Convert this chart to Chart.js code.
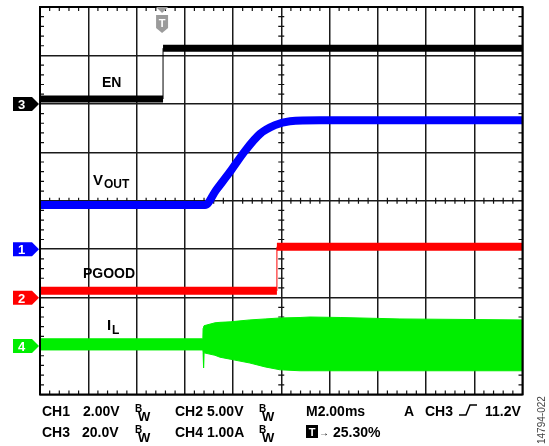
<!DOCTYPE html>
<html>
<head>
<meta charset="utf-8">
<script src="https://cdn.jsdelivr.net/npm/chart.js@4.4.1/dist/chart.umd.min.js"></script>
<style>
  body { margin: 0; background: #fff; }
  #scope { display: block; }
</style>
</head>
<body>
<canvas id="scope" width="549" height="446"></canvas>
<script>
// time axis in ms (M2.00ms/div, 10 div), vertical axis in screen divisions (8 div)
const enT = [0, 5.10, 5.10, 20];
const enV = [6.10, 6.10, 7.15, 7.15];

const voutT = [0, 6.84, 7.30, 7.88, 8.50, 9.12, 9.74, 10.36, 11.61, 20];
const voutV = [3.91, 3.91, 4.22, 4.60, 5.03, 5.38, 5.56, 5.64, 5.66, 5.66];

const pgoodT = [0, 9.82, 9.82, 20];
const pgoodV = [2.14, 2.14, 3.05, 3.05];

// inductor current: upper / lower envelope of the switching band
const ilT  = [0, 6.75, 6.76, 6.78, 6.80, 7.25, 7.46, 7.88, 8.08, 8.70, 9.33, 9.95, 10.78, 11.19, 12.44, 14.92, 20];
const ilHi = [1.15, 1.15, 1.37, 1.40, 1.42, 1.48, 1.49, 1.50, 1.51, 1.54, 1.56, 1.58, 1.59, 1.60, 1.59, 1.56, 1.54];
const ilLo = [0.92, 0.92, 0.87, 0.55, 0.86, 0.81, 0.77, 0.73, 0.71, 0.65, 0.57, 0.51, 0.49, 0.49, 0.49, 0.49, 0.49];

// channel ground markers (div) and trigger position (% of record)
const channels = [
    { n: '3', level: 6, color: '#000000' },
    { n: '1', level: 3, color: '#0000ff' },
    { n: '2', level: 2, color: '#ff0000' },
    { n: '4', level: 1, color: '#00ee00' }
];
const triggerPct = 25.30;

const FONT = '"Liberation Sans", Arial, sans-serif';

function pts(xs, ys) {
    return xs.map((x, i) => ({ x: x, y: ys[i] }));
}

function stepWidth(thick) {
    return {
        borderWidth: c => (c.p0.parsed.x === c.p1.parsed.x ? 1 : thick)
    };
}

function txt(ctx, s, x, y, size, color, weight) {
    ctx.font = (weight || 'bold') + ' ' + size + 'px ' + FONT;
    ctx.fillStyle = color || '#000';
    ctx.fillText(s, x, y);
}

function bw(ctx, x, y) {
    txt(ctx, 'B', x, y - 4, 10);
    txt(ctx, 'W', x + 3, y + 5, 13);
}

const scopeDecor = {
    id: 'scopeDecor',
    beforeDatasetsDraw(chart) {
        const { ctx, chartArea: a, scales: { x, y } } = chart;
        const cx = x.getPixelForValue(10);
        const cy = y.getPixelForValue(4);
        ctx.save();
        ctx.strokeStyle = '#111';
        ctx.lineWidth = 1.2;
        ctx.beginPath();
        for (let k = 1; k < 50; k++) {
            if (k % 5 === 0) continue;
            const px = x.getPixelForValue(k * 0.4);
            ctx.moveTo(px, a.top); ctx.lineTo(px, a.top + 4);
            ctx.moveTo(px, a.bottom); ctx.lineTo(px, a.bottom - 4);
            ctx.moveTo(px, cy - 3); ctx.lineTo(px, cy + 3);
        }
        for (let k = 1; k < 40; k++) {
            if (k % 5 === 0) continue;
            const py = y.getPixelForValue(k * 0.2);
            ctx.moveTo(a.left, py); ctx.lineTo(a.left + 4, py);
            ctx.moveTo(a.right, py); ctx.lineTo(a.right - 4, py);
            ctx.moveTo(cx - 3, py); ctx.lineTo(cx + 3, py);
        }
        ctx.stroke();
        ctx.restore();
    },
    afterDatasetsDraw(chart) {
        const { ctx, chartArea: a, scales: { x, y } } = chart;
        ctx.save();
        ctx.strokeStyle = '#000';
        ctx.lineWidth = 2;
        ctx.strokeRect(a.left, a.top, a.right - a.left, a.bottom - a.top);

        // channel ground markers
        channels.forEach(ch => {
            const py = y.getPixelForValue(ch.level);
            ctx.fillStyle = ch.color;
            ctx.beginPath();
            ctx.moveTo(13, py - 7);
            ctx.lineTo(32, py - 7);
            ctx.lineTo(39, py);
            ctx.lineTo(32, py + 7);
            ctx.lineTo(13, py + 7);
            ctx.closePath();
            ctx.fill();
            txt(ctx, ch.n, 18, py + 5, 13, '#fff');
        });

        // trigger position marker
        const tx = x.getPixelForValue(triggerPct / 100 * 20);
        ctx.fillStyle = '#9b9b9b';
        ctx.beginPath();
        ctx.moveTo(tx - 6, a.top); ctx.lineTo(tx + 6, a.top); ctx.lineTo(tx, a.top + 6);
        ctx.closePath(); ctx.fill();
        ctx.beginPath();
        ctx.moveTo(tx - 6, 15); ctx.lineTo(tx + 6, 15); ctx.lineTo(tx + 6, 28);
        ctx.lineTo(tx, 33); ctx.lineTo(tx - 6, 28);
        ctx.closePath(); ctx.fill();
        ctx.textAlign = 'center';
        txt(ctx, 'T', tx, 27, 11, '#fff');
        ctx.textAlign = 'left';

        // trace labels
        txt(ctx, 'EN', 102, 87, 14);
        txt(ctx, 'V', 93, 185, 15);
        txt(ctx, 'OUT', 104, 188, 12);
        txt(ctx, 'PGOOD', 83, 278, 14);
        txt(ctx, 'I', 107, 330, 15);
        txt(ctx, 'L', 112, 334, 12);

        // bottom settings readout
        txt(ctx, 'CH1', 42, 416, 14);
        txt(ctx, '2.00V', 83, 416, 14);
        bw(ctx, 135, 416);
        txt(ctx, 'CH2 5.00V', 175, 416, 14);
        bw(ctx, 259, 416);
        txt(ctx, 'M2.00ms', 306, 416, 14);
        txt(ctx, 'A', 404, 416, 14);
        txt(ctx, 'CH3', 425, 416, 14);
        ctx.strokeStyle = '#000';
        ctx.lineWidth = 1.5;
        ctx.beginPath();
        ctx.moveTo(459, 415); ctx.lineTo(466, 415); ctx.lineTo(470, 405); ctx.lineTo(477, 405);
        ctx.stroke();
        txt(ctx, '11.2V', 485, 416, 14);

        txt(ctx, 'CH3', 42, 437, 14);
        txt(ctx, '20.0V', 82, 437, 14);
        bw(ctx, 135, 437);
        txt(ctx, 'CH4 1.00A', 175, 437, 14);
        bw(ctx, 259, 437);
        ctx.fillStyle = '#000';
        ctx.fillRect(306, 425, 12, 13);
        ctx.textAlign = 'center';
        txt(ctx, 'T', 312, 436, 11, '#fff');
        ctx.textAlign = 'left';
        txt(ctx, '\u2192', 319, 436, 10);
        txt(ctx, '25.30%', 333, 437, 14);

        ctx.translate(545, 444);
        ctx.rotate(-Math.PI / 2);
        txt(ctx, '14794-022', 0, 0, 10, '#444', 'normal');
        ctx.restore();
    }
};

new Chart(document.getElementById('scope').getContext('2d'), {
    type: 'line',
    data: {
        datasets: [
            {
                label: 'EN',
                data: pts(enT, enV),
                borderColor: '#000000',
                borderWidth: 7,
                segment: stepWidth(7)
            },
            {
                label: 'VOUT',
                data: pts(voutT, voutV),
                borderColor: '#0000ff',
                borderWidth: 8,
                cubicInterpolationMode: 'monotone'
            },
            {
                label: 'PGOOD',
                data: pts(pgoodT, pgoodV),
                borderColor: '#ff0000',
                borderWidth: 8,
                segment: stepWidth(8)
            },
            {
                label: 'IL high',
                data: pts(ilT, ilHi),
                borderColor: '#00ee00',
                backgroundColor: '#00ee00',
                borderWidth: 1,
                fill: '+1'
            },
            {
                label: 'IL low',
                data: pts(ilT, ilLo),
                borderColor: '#00ee00',
                borderWidth: 1,
                fill: false
            }
        ]
    },
    options: {
        responsive: false,
        animation: false,
        parsing: true,
        elements: { point: { radius: 0 }, line: { tension: 0, borderCapStyle: 'butt' } },
        layout: { padding: { left: 40, top: 7, right: 26.5, bottom: 51.5 } },
        plugins: { legend: { display: false }, tooltip: { enabled: false } },
        scales: {
            x: {
                type: 'linear', min: 0, max: 20,
                ticks: { stepSize: 2, display: false },
                grid: { color: '#1a1a1a', lineWidth: 1.5, drawTicks: false },
                border: { display: false }
            },
            y: {
                type: 'linear', min: 0, max: 8,
                ticks: { stepSize: 1, display: false },
                grid: { color: '#1a1a1a', lineWidth: 1.5, drawTicks: false },
                border: { display: false }
            }
        }
    },
    plugins: [scopeDecor]
});
</script>
</body>
</html>
